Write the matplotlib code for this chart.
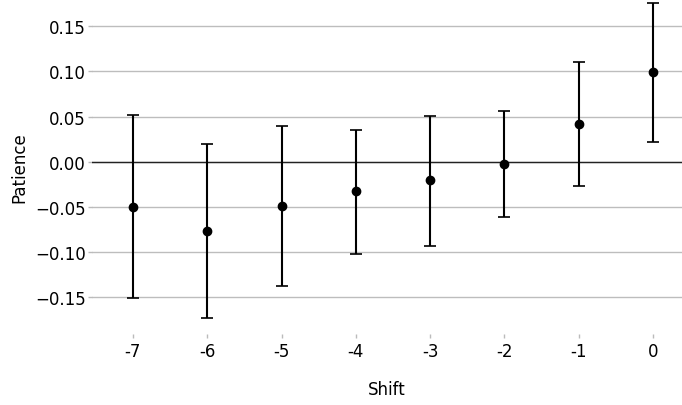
import matplotlib
matplotlib.use("Agg")
import matplotlib.pyplot as plt
import numpy as np

shifts = ["-7", "-6", "-5", "-4", "-3", "-2", "-1", "0"]
estimates = [-0.050, -0.077, -0.049, -0.033, -0.021, -0.003, 0.042, 0.099]
upper = [0.052, 0.020, 0.039, 0.035, 0.051, 0.056, 0.110, 0.176]
lower = [-0.152, -0.174, -0.138, -0.103, -0.094, -0.062, -0.027, 0.022]

x = np.array([int(s) for s in shifts])
est = np.array(estimates)
yerr = np.vstack([est - np.array(lower), np.array(upper) - est])

fig = plt.figure(figsize=(6.82, 4.06), dpi=100)
ax = fig.add_axes([0.135, 0.175, 0.865, 0.825])

ax.set_ylim(-0.1915, 0.1805)
ax.set_xlim(-7.55, 0.39)
ax.set_yticks([-0.15, -0.10, -0.05, 0.00, 0.05, 0.10, 0.15])
ax.yaxis.grid(True, color="#bdbdbd", linewidth=1.0)
ax.set_axisbelow(True)
ax.axhline(0, color="#222222", linewidth=1.0, zorder=1)

ax.errorbar(x, est, yerr=yerr, fmt="o", color="black", ecolor="black",
            elinewidth=1.5, capsize=4, capthick=1.2, markersize=6, zorder=3)

ax.set_xticks(x)
ax.set_xticklabels(shifts)
for s in ax.spines.values():
    s.set_visible(False)
ax.tick_params(axis="both", colors="#bbbbbb", labelcolor="black", labelsize=12,
               length=3, width=1)
ax.tick_params(axis="y", pad=1.5)
ax.tick_params(axis="x", pad=3)
ax.set_xlabel("Shift", fontsize=12, labelpad=14)
ax.set_ylabel("Patience", fontsize=12, labelpad=5)

fig.savefig("out.png", dpi=100)
